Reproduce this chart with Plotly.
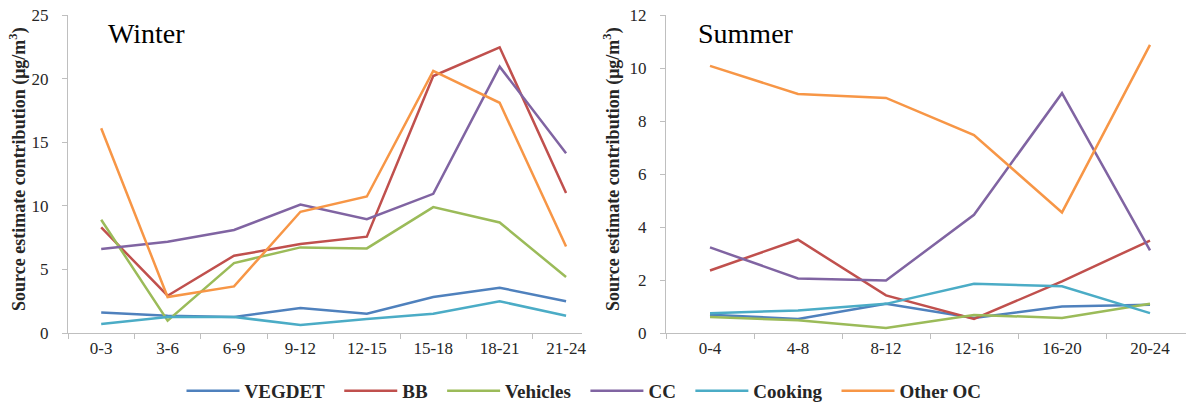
import plotly.graph_objects as go

winter_periods = ["0-3", "3-6", "6-9", "9-12", "12-15", "15-18", "18-21", "21-24"]
summer_periods = ["0-4", "4-8", "8-12", "12-16", "16-20", "20-24"]
sources = ["VEGDET", "BB", "Vehicles", "CC", "Cooking", "Other OC"]
colors = ["#4F81BD", "#C0504D", "#9BBB59", "#8064A2", "#4BACC6", "#F79646"]

winter_vegdet = [1.62, 1.36, 1.26, 1.96, 1.52, 2.83, 3.56, 2.49]
winter_bb = [8.3, 2.93, 6.07, 6.99, 7.57, 20.2, 22.46, 11.0]
winter_vehicles = [8.9, 0.97, 5.5, 6.73, 6.65, 9.9, 8.69, 4.4]
winter_cc = [6.6, 7.17, 8.1, 10.1, 8.95, 10.94, 20.94, 14.14]
winter_cooking = [0.71, 1.26, 1.26, 0.63, 1.1, 1.52, 2.49, 1.36]
winter_otheroc = [16.1, 2.83, 3.66, 9.53, 10.73, 20.6, 18.1, 6.8]

summer_vegdet = [0.69, 0.53, 1.1, 0.57, 1.0, 1.07]
summer_bb = [2.36, 3.52, 1.42, 0.53, 1.95, 3.49]
summer_vehicles = [0.6, 0.48, 0.19, 0.68, 0.57, 1.1]
summer_cc = [3.23, 2.06, 1.98, 4.46, 9.05, 3.12]
summer_cooking = [0.75, 0.85, 1.1, 1.86, 1.76, 0.75]
summer_otheroc = [10.08, 9.02, 8.87, 7.47, 4.55, 10.87]

winter_series = [winter_vegdet, winter_bb, winter_vehicles, winter_cc, winter_cooking, winter_otheroc]
summer_series = [summer_vegdet, summer_bb, summer_vehicles, summer_cc, summer_cooking, summer_otheroc]

OFF = 8  # page body margin
W, H = 1194 - OFF, 409 - OFF
FONT = "Liberation Serif"
GRAY = "#BFBFBF"
TXT = "#262626"
PAD = "\u00a0\u00a0"

fig = go.Figure()
for i, (name, col, ys) in enumerate(zip(sources, colors, winter_series)):
    label = name + (PAD if i < len(sources) - 1 else "")
    fig.add_trace(go.Scatter(x=winter_periods, y=ys, mode="lines", name=label,
                             line=dict(color=col, width=2.5), xaxis="x", yaxis="y",
                             legendgroup=name, showlegend=True))
for name, col, ys in zip(sources, colors, summer_series):
    fig.add_trace(go.Scatter(x=summer_periods, y=ys, mode="lines", name=name,
                             line=dict(color=col, width=2.5), xaxis="x2", yaxis="y2",
                             legendgroup=name, showlegend=False))

def px_x(p):
    return (p - OFF) / W

def px_y(p):
    return (H - (p - OFF)) / H

ydom = [px_y(333), px_y(15)]
tickfont = dict(family=FONT, size=17, color=TXT)
common_x = dict(type="category", showgrid=False, zeroline=False, showline=True,
                linecolor=GRAY, linewidth=1, ticks="outside", ticklen=5, tickcolor=GRAY,
                tickson="boundaries", tickfont=tickfont, ticklabeloverflow="allow")
common_y = dict(showgrid=False, zeroline=False, showline=True, linecolor=GRAY, linewidth=1,
                ticks="outside", ticklen=5, tickcolor=GRAY, ticklabeloverflow="allow",
                tickfont=tickfont, ticklabelstandoff=10)

fig.update_layout(
    width=W, height=H,
    margin=dict(l=0, r=0, t=0, b=0, autoexpand=False),
    font=dict(family=FONT, color=TXT, size=17),
    paper_bgcolor="white", plot_bgcolor="white",
    showlegend=True,
    xaxis=dict(domain=[px_x(68), px_x(582)], range=[-0.5, 7.24], anchor="y", **common_x),
    yaxis=dict(domain=ydom, range=[0, 25], dtick=5, anchor="x", **common_y),
    xaxis2=dict(domain=[px_x(666), 1.0], range=[-0.5, 5.5], anchor="y2", **common_x),
    yaxis2=dict(domain=ydom, range=[0, 12], dtick=2, anchor="x2", **common_y),
    legend=dict(orientation="h", x=px_x(584), xanchor="center", y=px_y(391), yanchor="middle",
                font=dict(family=FONT, size=19, color=TXT, weight="bold"),
                itemwidth=53, bgcolor="rgba(0,0,0,0)"),
)

title_text = "Source estimate contribution (μg/m<sup>3</sup>)"
for xpos in (18, 612):
    fig.add_annotation(text=title_text, xref="paper", yref="paper", x=px_x(xpos), y=px_y(169),
                       textangle=-90, showarrow=False, xanchor="center", yanchor="middle",
                       font=dict(family=FONT, size=18, color=TXT, weight="bold"))

for label, xpos in (("Winter", 106), ("Summer", 696)):
    fig.add_annotation(text=label, xref="paper", yref="paper", x=px_x(xpos), y=px_y(34),
                       showarrow=False, xanchor="left", yanchor="middle",
                       font=dict(family=FONT, size=28, color="#000000"))

fig.write_html("out.html")
